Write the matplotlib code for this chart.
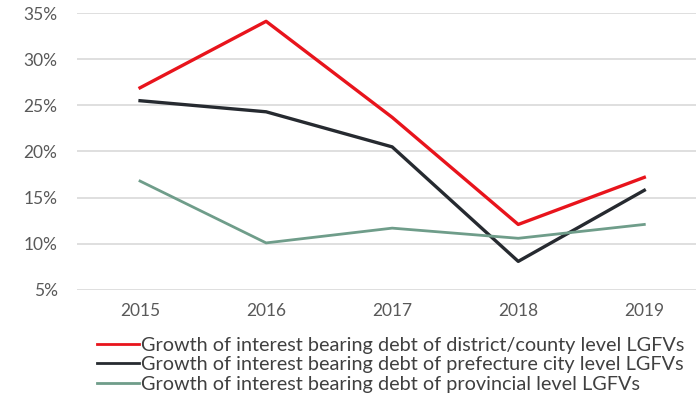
import matplotlib.pyplot as plt
from matplotlib.ticker import FuncFormatter

years = ["2015", "2016", "2017", "2018", "2019"]
district_county = [26.9, 34.1, 23.7, 12.1, 17.2]
prefecture_city = [25.5, 24.3, 20.5, 8.1, 15.8]
provincial = [16.8, 10.1, 11.7, 10.6, 12.1]

labels = [
    "Growth of interest bearing debt of district/county level LGFVs",
    "Growth of interest bearing debt of prefecture city level LGFVs",
    "Growth of interest bearing debt of provincial level LGFVs",
]

plt.rcParams["font.family"] = ["Lato", "DejaVu Sans"]

fig = plt.figure(figsize=(6.96, 3.99), dpi=100)
ax = fig.add_axes([77 / 696, 1 - 290 / 399, 619 / 696, 277 / 399])

x = range(len(years))
ax.plot(x, district_county, color="#e8141c", lw=2.4, label=labels[0])
ax.plot(x, prefecture_city, color="#262a30", lw=2.4, label=labels[1])
ax.plot(x, provincial, color="#6f9d8a", lw=2.0, label=labels[2])

ax.set_xlim(-0.5, 4.41)
ax.set_ylim(5, 35)
ax.set_yticks(range(5, 36, 5))
ax.yaxis.set_major_formatter(FuncFormatter(lambda v, p: f"{v:.0f}%"))
ax.set_xticks(list(x))
ax.set_xticklabels(years)
ax.grid(axis="y", color="#d9d9d9", lw=1.2)
ax.set_axisbelow(True)
for s in ax.spines.values():
    s.set_visible(False)
ax.tick_params(length=0, labelsize=12.5, colors="#595959")
ax.tick_params(axis="y", pad=14)
ax.tick_params(axis="x", pad=9)

leg = fig.legend(loc="upper left", bbox_to_anchor=(89 / 696, 1 - 329 / 399),
                 frameon=False, fontsize=14.3, handlelength=2.1, handletextpad=0.1,
                 labelspacing=0.12, borderaxespad=0, labelcolor="#404040")
for h in leg.legend_handles:
    h.set_linewidth(2.0)

fig.savefig("out.png", dpi=100)
